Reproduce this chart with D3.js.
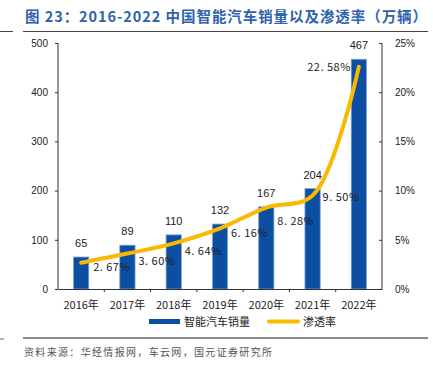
<!DOCTYPE html>
<html lang="zh">
<head>
  <meta charset="UTF-8">
  <title>智能汽车销量</title>
  <style>
    body { margin: 0; background: #fff; }
    svg { display: block; }
  </style>
</head>
<body>
  <div id="chart"></div>
  <script src="https://cdn.jsdelivr.net/npm/d3@7"></script>
  <script>
    // data
    const years = ['2016年', '2017年', '2018年', '2019年', '2020年', '2021年', '2022年'];
    const sales = [65, 89, 110, 132, 167, 204, 467];
    const rate = [2.67, 3.60, 4.64, 6.16, 8.28, 9.50, 22.58];
    const leftTicks = [0, 100, 200, 300, 400, 500];
    const rightTicks = [0, 5, 10, 15, 20, 25];

    const W = 433, H = 365;
    const m = { left: 58, right: 382, top: 43, bottom: 289 };
    const cjk = '"Noto Sans CJK SC", "Noto Sans", sans-serif';
    const latin = '"Liberation Sans", Arial, sans-serif';

    const svg = d3.select('#chart').append('svg')
      .attr('width', W)
      .attr('height', H);

    // title + rules
    svg.append('text')
      .attr('x', 25).attr('y', 22)
      .attr('textLength', 402)
      .attr('lengthAdjust', 'spacing')
      .style('font-family', cjk)
      .style('font-size', '14.5px')
      .style('font-weight', 'bold')
      .attr('fill', '#2f62ad')
      .text('图 23：2016-2022 中国智能汽车销量以及渗透率（万辆）');

    svg.append('line').attr('x1', 23).attr('x2', 428).attr('y1', 31.5).attr('y2', 31.5)
      .attr('stroke', '#444').attr('stroke-width', 1);
    svg.append('line').attr('x1', 0).attr('x2', 13).attr('y1', 31.5).attr('y2', 31.5)
      .attr('stroke', '#444').attr('stroke-width', 1);

    const x = d3.scaleBand().domain(years).range([m.left, m.right]).paddingInner(0.67).paddingOuter(0.335);
    const xb = d3.scaleBand().domain(years).range([m.left, m.right]);
    const y = d3.scaleLinear().domain([0, 500]).range([m.bottom, m.top]);
    const y2 = d3.scaleLinear().domain([0, 25]).range([m.bottom, m.top]);

    // axes
    const gl = svg.append('g').attr('transform', `translate(${m.left},0)`)
      .call(d3.axisLeft(y).tickValues(leftTicks).tickSize(3).tickPadding(7));
    const gr = svg.append('g').attr('transform', `translate(${m.right},0)`)
      .call(d3.axisRight(y2).tickValues(rightTicks).tickSize(-3).tickPadding(13).tickFormat(d => d + '%'));
    [gl, gr].forEach(g => {
      g.select('.domain').attr('stroke', '#333').attr('d', `M0,${m.top}V${m.bottom}`);
      g.selectAll('.tick line').attr('stroke', '#333');
      g.selectAll('.tick text').attr('fill', '#222').style('font-family', latin).style('font-size', '10px');
    });

    // bars
    svg.append('g').selectAll('rect').data(sales).join('rect')
      .attr('x', (d, i) => x(years[i]))
      .attr('y', d => y(d))
      .attr('width', x.bandwidth())
      .attr('height', d => y(0) - y(d))
      .attr('fill', '#0b4ea2')
      .attr('stroke', '#7ea6d8')
      .attr('stroke-width', 0.8);

    // x axis
    const gx = svg.append('g').attr('transform', `translate(0,${m.bottom})`)
      .call(d3.axisBottom(xb).tickSize(0).tickPadding(12));
    gx.select('.domain').attr('stroke', '#333');
    gx.selectAll('.tick text').attr('fill', '#222').style('font-family', cjk).style('font-size', '11px');
    gx.selectAll('line.sep').data(years.slice(1)).join('line')
      .attr('class', 'sep')
      .attr('x1', d => xb(d)).attr('x2', d => xb(d))
      .attr('y1', 0).attr('y2', 3)
      .attr('stroke', '#333');

    // value labels
    svg.append('g').selectAll('text').data(sales).join('text')
      .attr('x', (d, i) => x(years[i]) + x.bandwidth() / 2)
      .attr('y', d => y(d) - 10)
      .attr('text-anchor', 'middle')
      .style('font-family', latin)
      .style('font-size', '11px')
      .attr('fill', '#222')
      .text(d => d);

    // line
    const cx = i => xb(years[i]) + xb.bandwidth() / 2;
    const line = d3.line()
      .x((d, i) => cx(i))
      .y(d => y2(d))
      .curve(d3.curveCatmullRom.alpha(0.5));
    svg.append('path')
      .datum(rate)
      .attr('d', line)
      .attr('fill', 'none')
      .attr('stroke', '#fbb800')
      .attr('stroke-width', 4)
      .attr('stroke-linecap', 'round');

    // rate labels, nudged off the line like the original
    const shift = [[12, 8], [11, 11], [11, 12], [11, 9], [11, 17], [10, 5], [-8, 4]];
    svg.append('g').selectAll('text').data(rate).join('text')
      .attr('x', (d, i) => cx(i) + shift[i][0])
      .attr('y', (d, i) => y2(d) + shift[i][1])
      .attr('text-anchor', (d, i) => i === rate.length - 1 ? 'end' : 'start')
      .style('font-family', cjk)
      .style('font-size', '11px')
      .style('letter-spacing', '0.5px')
      .attr('fill', '#222')
      .text(d => d.toFixed(2).replace('.', '. ') + '%');

    // legend
    const lg = svg.append('g');
    lg.append('rect').attr('x', 149).attr('y', 319).attr('width', 31).attr('height', 5).attr('fill', '#0b4ea2');
    lg.append('text').attr('x', 184).attr('y', 325.5).style('font-family', cjk).style('font-size', '11px')
      .attr('fill', '#222').text('智能汽车销量');
    lg.append('line').attr('x1', 269).attr('x2', 298).attr('y1', 321.5).attr('y2', 321.5)
      .attr('stroke', '#fbb800').attr('stroke-width', 4).attr('stroke-linecap', 'round');
    lg.append('text').attr('x', 303).attr('y', 325.5).style('font-family', cjk).style('font-size', '11px')
      .attr('fill', '#222').text('渗透率');

    // bottom rule + source
    svg.append('line').attr('x1', 23).attr('x2', 428).attr('y1', 338).attr('y2', 338)
      .attr('stroke', '#8c8c8c').attr('stroke-width', 2);
    svg.append('line').attr('x1', 0).attr('x2', 4).attr('y1', 339).attr('y2', 339)
      .attr('stroke', '#666').attr('stroke-width', 1);
    svg.append('text').attr('x', 24).attr('y', 356)
      .attr('textLength', 248)
      .attr('lengthAdjust', 'spacing')
      .style('font-family', cjk).style('font-size', '10px')
      .attr('fill', '#555')
      .text('资料来源：华经情报网，车云网，国元证券研究所');
  </script>
</body>
</html>
